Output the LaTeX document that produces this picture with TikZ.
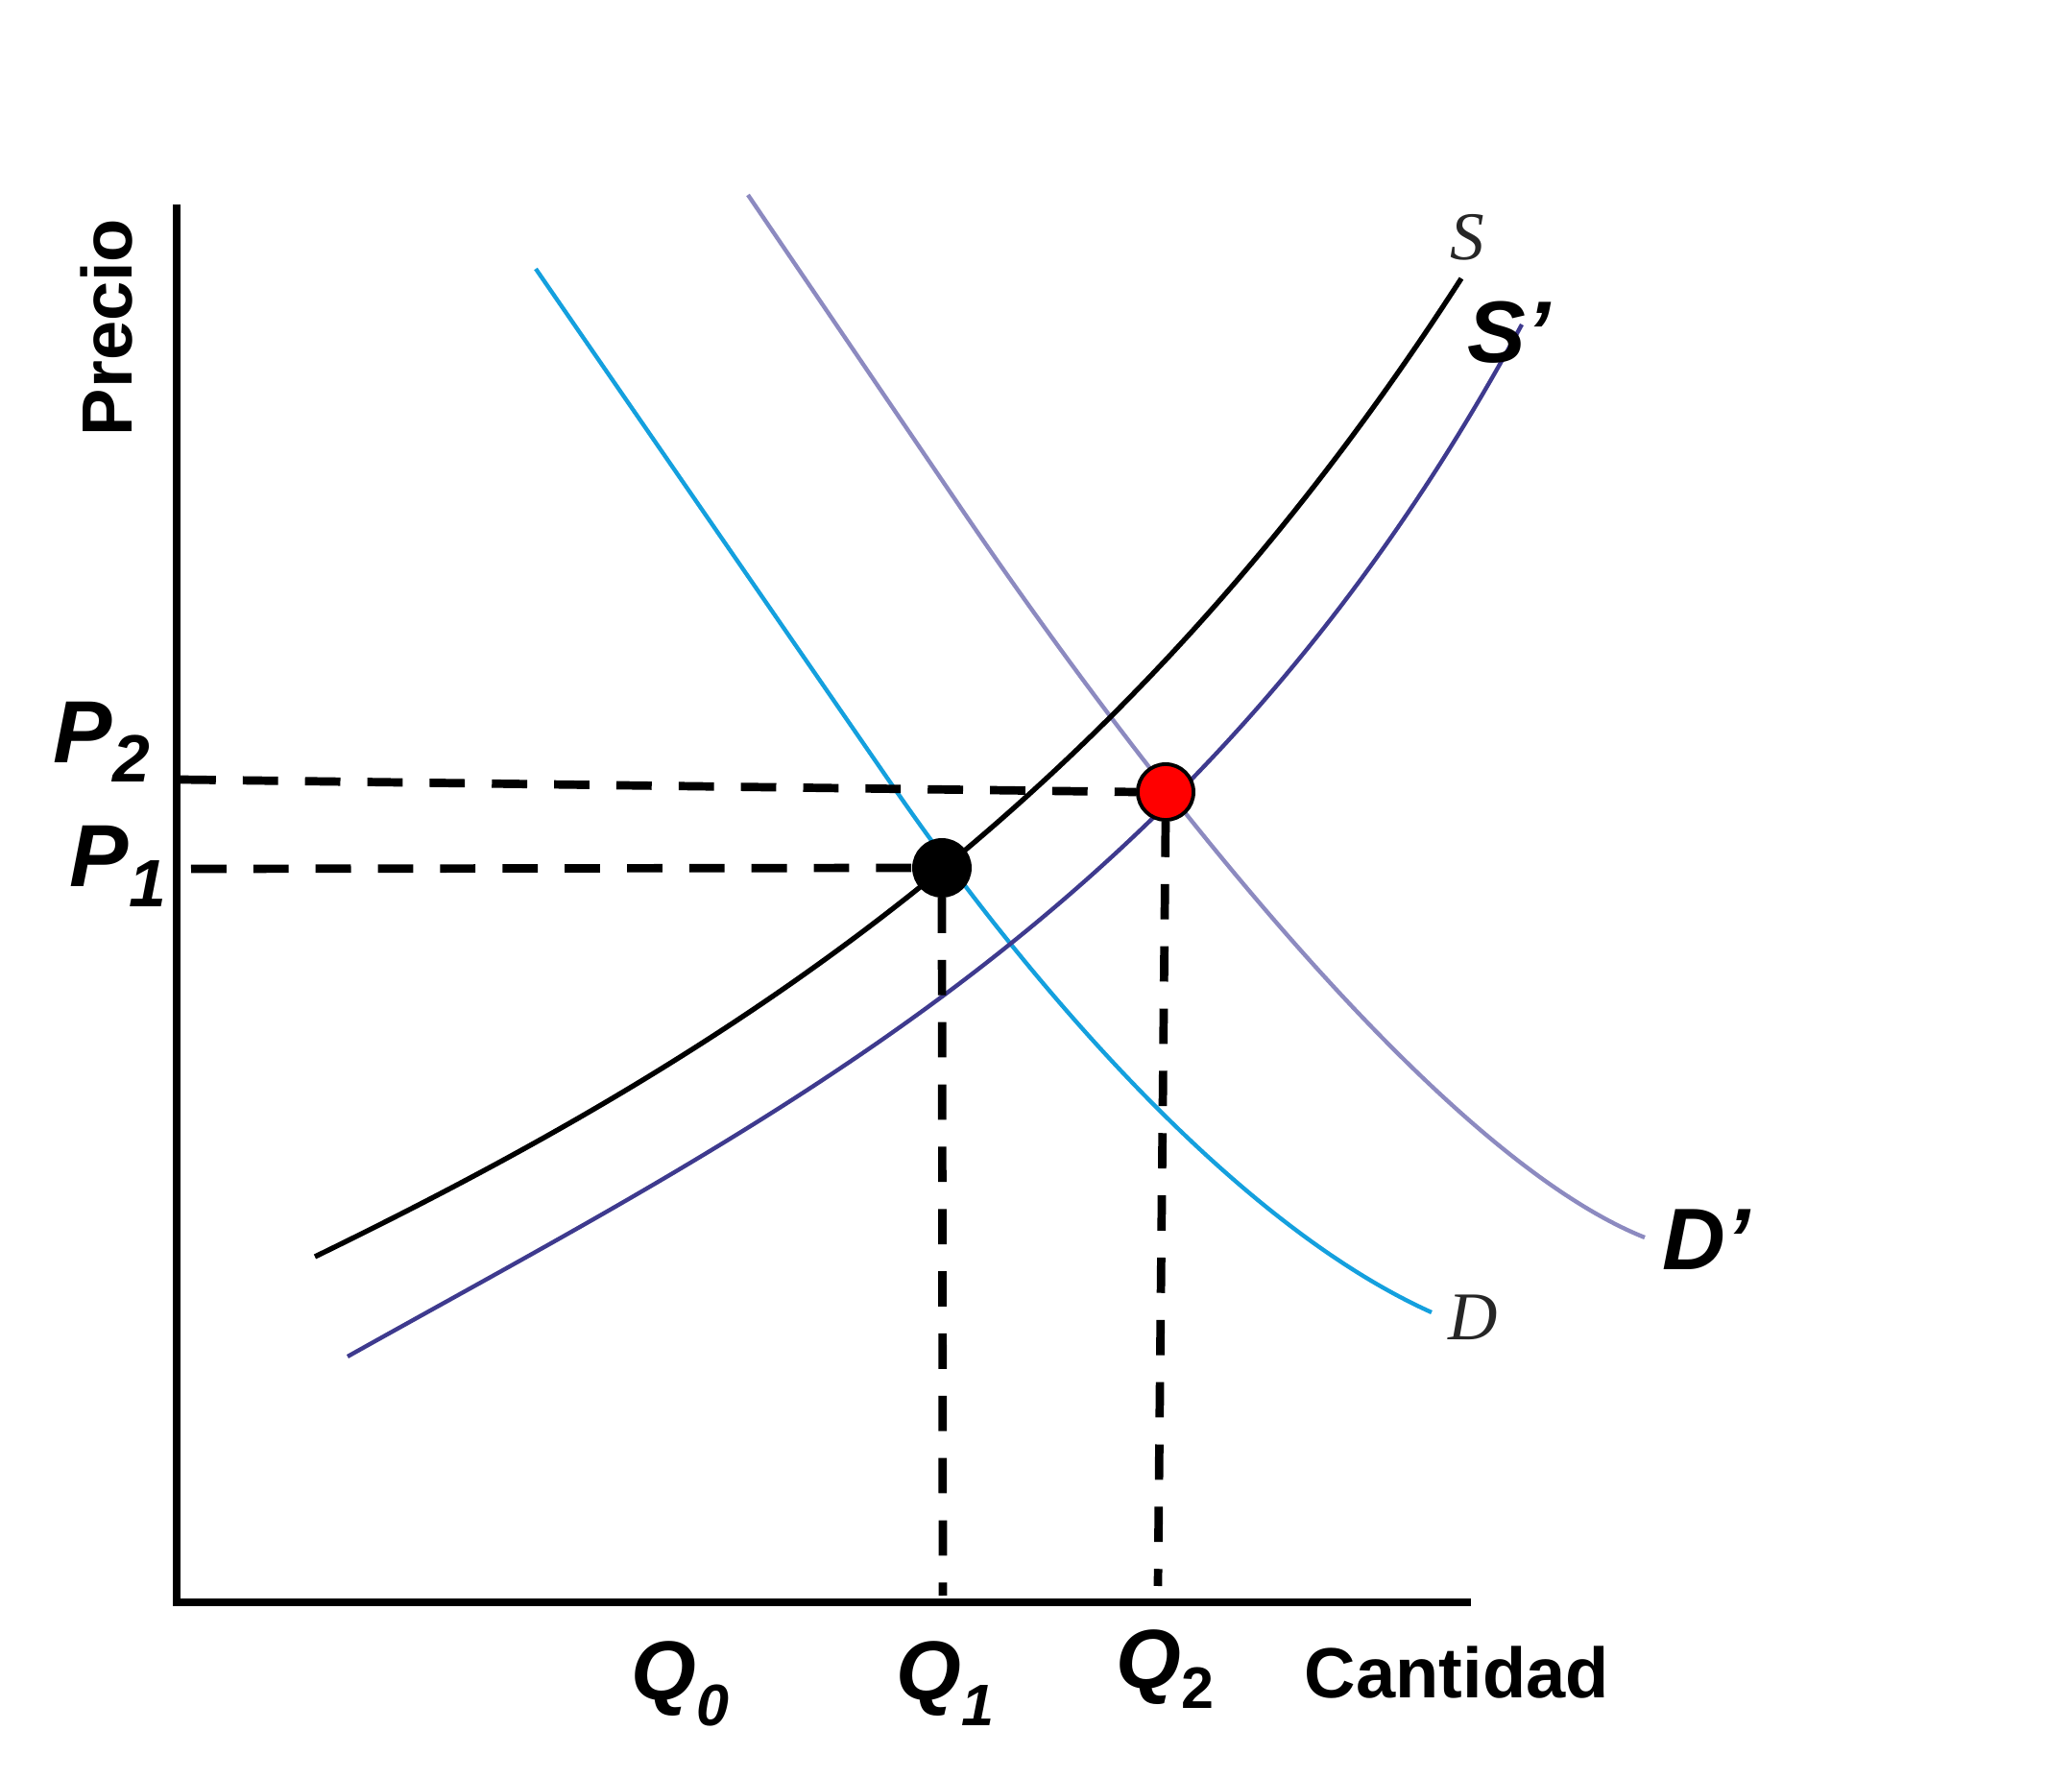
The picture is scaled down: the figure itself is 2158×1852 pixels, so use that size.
\documentclass[tikz,border=0pt]{standalone}
\usepackage{fontspec}
\setmainfont{Liberation Serif}
\setsansfont{Liberation Sans}
\usetikzlibrary{positioning}
\definecolor{demcyan}{RGB}{20,160,222}
\definecolor{demlav}{RGB}{140,138,192}
\definecolor{supblue}{RGB}{62,58,142}
\tikzset{every picture/.style={/utils/exec={\sffamily}}}
\tikzset{
	eje/.style={line width=1.65pt},
	guia/.style={line width=1.8pt, dash pattern=on 7.6pt off 5.8pt},
	curva/.style={line width=0.9pt},
	punto/.style={circle, minimum size=12pt, inner sep=0pt, draw=black, line width=0.8pt},
	etq/.style={inner sep=0pt, anchor=base west},
	grande/.style={etq, font=\sffamily\bfseries\itshape\fontsize{19}{19}\selectfont},
	cant/.style={etq, font=\sffamily\bfseries\itshape\fontsize{18}{18}\selectfont},
	serif/.style={etq, text=black!85, font=\rmfamily\itshape\fontsize{14.7}{14.7}\selectfont}
}
\newcommand{\subind}[3]{\raisebox{-#1}{\fontsize{#2}{#2}\selectfont #3}}

\begin{document}
\begin{tikzpicture}[x=0.07262mm,y=-0.07262mm]
		\useasboundingbox (0,0) rectangle (2158,1852);

		% ejes
		\coordinate (ytop) at (184,213);
		\coordinate (origen) at (184,1669);
		\coordinate (xfin) at (1532,1669);
		\draw[eje] (ytop) -- (origen) -- (xfin);

		% curvas
		\draw[curva, demcyan] (558,280) -- (930,819) .. controls (1080,1036) and (1291,1277) .. (1491,1367);
		\draw[curva, demlav] (779,203) -- (1000,528) .. controls (1170,778) and (1488,1199) .. (1713,1289);
		\draw[line width=1.1pt] (328,1309) .. controls (778,1090) and (1172,832) .. (1522,290);
		\draw[curva, supblue] (362,1413) .. controls (812,1161) and (1255,948) .. (1585,338);

		% equilibrios
		\node[punto, fill=black] (e1) at (981,904) {};
		\node[punto, fill=red] (e2) at (1214,825) {};

		\coordinate (p2eje) at (188,812);
		\coordinate (p1eje) at (199,905);
		\coordinate (q1eje) at (982,1662);
		\coordinate (q2eje) at (1206,1652);
		\draw[guia] (p2eje) -- (e2.west);
		\draw[guia] (p1eje) -- (e1.west);
		\draw[guia] (e1.south) -- (q1eje);
		\draw[guia] (e2.south) -- (q2eje);

		% etiquetas
		\node[inner sep=0pt, rotate=90, font=\sffamily\bfseries\fontsize{15.3}{15.3}\selectfont] (precio) at (111,341) {Precio};
		\node[grande] (p2) at (55,795) {P\subind{4pt}{14.4}{2}};
		\node[grande] (p1) at (72,923) {P\subind{4.5pt}{14.4}{1}};
		\node[cant] (q0) at (657,1771) {Q\subind{5.5pt}{12.6}{0}};
		\node[cant] (q1) at (933,1771) {Q\subind{5.5pt}{12.6}{1}};
		\node[cant] (q2) at (1162,1758) {Q\subind{4.5pt}{12.6}{\upshape 2}};
		\node[etq, font=\sffamily\bfseries\fontsize{15.3}{15.3}\selectfont] (cantidad) at (1358,1768) {Cantidad};

		\node[serif] (s) at (1510,271) {S};
		\node[serif] (d) at (1508,1395) {D};
		\node[cant, font=\sffamily\bfseries\itshape\fontsize{18.8}{18.8}\selectfont] (sp) at (1528,378) {S’};
		\node[cant, font=\sffamily\bfseries\itshape\fontsize{18.8}{18.8}\selectfont] (dp) at (1731,1323) {D’};
	\end{tikzpicture}
\end{document}
